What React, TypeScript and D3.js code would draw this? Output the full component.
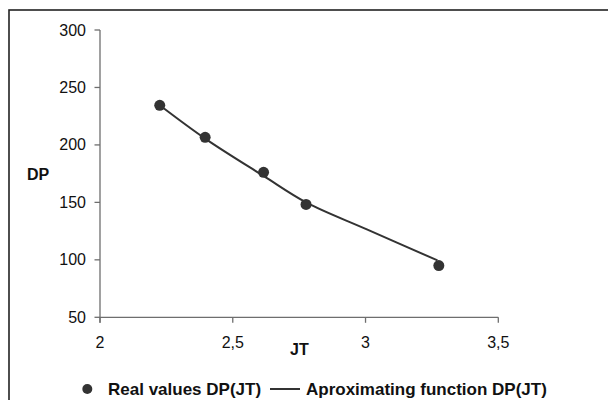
import React from "react";
import * as d3 from "d3";

const realJT = [2.225, 2.396, 2.616, 2.776, 3.276];
const realDP = [234.5, 206.6, 176.2, 148.2, 95.0];

const fitJT = [2.225, 2.396, 2.616, 2.776, 3.005, 3.271];
const fitDP = [234.5, 205.5, 173.0, 150.0, 126.5, 99.5];

const xTicks = [2, 2.5, 3, 3.5];
const yTicks = [50, 100, 150, 200, 250, 300];

const W = 608;
const H = 400;
const font = "'Liberation Sans', Arial, Helvetica, sans-serif";

export default function App() {
  const x = d3.scaleLinear().domain([2, 3.5]).range([100, 498.3]);
  const y = d3.scaleLinear().domain([50, 300]).range([317.3, 30]);
  const fmt = (v: number) => String(v).replace(".", ",");

  const line = d3
    .line<number>()
    .x((_, i) => x(fitJT[i]))
    .y((d) => y(d))
    .curve(d3.curveCatmullRom.alpha(0.5));

  const axisColor = "#6e6e6e";
  const markColor = "#333333";

  return (
    <svg
      width={W}
      height={H}
      style={{ position: "absolute", left: 0, top: 0, background: "#fff" }}
    >
      <rect x={0} y={0} width={W} height={H} fill="#fff" />
      <rect x={9} y={10} width={700} height={500} fill="none" stroke="#222" strokeWidth={1.6} />

      {/* y axis */}
      <line x1={x(2)} x2={x(2)} y1={y(300)} y2={y(50) + 5.5} stroke={axisColor} strokeWidth={1.3} />
      {yTicks.map((t) => (
        <g key={"y" + t}>
          <line x1={x(2) - 5.5} x2={x(2)} y1={y(t)} y2={y(t)} stroke={axisColor} strokeWidth={1.3} />
          <text
            x={86}
            y={y(t)}
            textAnchor="end"
            dominantBaseline="central"
            fontFamily={font}
            fontSize={16}
            fill="#111"
          >
            {t}
          </text>
        </g>
      ))}

      {/* x axis */}
      <line x1={x(2)} x2={x(3.5)} y1={y(50)} y2={y(50)} stroke={axisColor} strokeWidth={1.3} />
      {xTicks.map((t) => (
        <g key={"x" + t}>
          <line x1={x(t)} x2={x(t)} y1={y(50)} y2={y(50) + 5.5} stroke={axisColor} strokeWidth={1.3} />
          <text
            x={x(t)}
            y={342}
            textAnchor="middle"
            dominantBaseline="central"
            fontFamily={font}
            fontSize={16}
            fill="#111"
          >
            {fmt(t)}
          </text>
        </g>
      ))}

      {/* axis titles */}
      <text x={27} y={174.5} dominantBaseline="central" fontFamily={font} fontSize={16} fontWeight="bold" fill="#111">
        DP
      </text>
      <text x={290} y={349.5} dominantBaseline="central" fontFamily={font} fontSize={16} fontWeight="bold" fill="#111">
        JT
      </text>

      {/* fitted curve */}
      <path d={line(fitDP) || ""} fill="none" stroke={markColor} strokeWidth={2} />

      {/* real points */}
      {realJT.map((v, i) => (
        <circle key={"p" + i} cx={x(v)} cy={y(realDP[i])} r={5.5} fill={markColor} />
      ))}

      {/* legend */}
      <circle cx={87.3} cy={389} r={5} fill={markColor} />
      <text x={108} y={395} fontFamily={font} fontSize={17} fontWeight="bold" fill="#111">
        Real values DP(JT)
      </text>
      <line x1={270} x2={300} y1={389} y2={389} stroke={markColor} strokeWidth={2} />
      <text x={306} y={395} fontFamily={font} fontSize={17} fontWeight="bold" fill="#111">
        Aproximating function DP(JT)
      </text>
    </svg>
  );
}
